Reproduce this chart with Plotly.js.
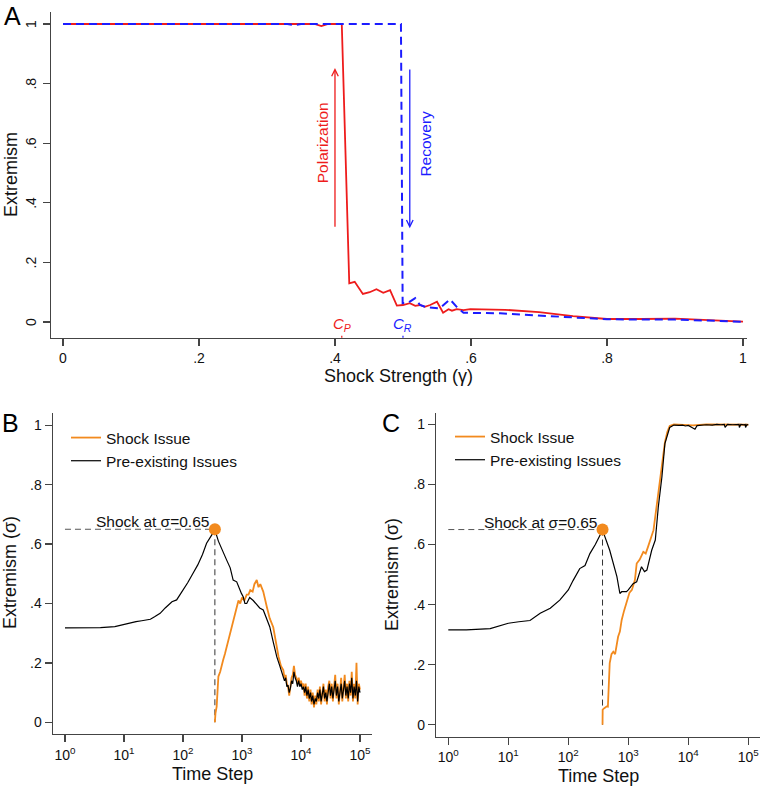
<!DOCTYPE html>
<html>
<head>
<meta charset="utf-8">
<script src="https://cdn.plot.ly/plotly-3.0.1.min.js"></script>
<style>html,body{margin:0;padding:0;background:#fff;}</style>
</head>
<body>
<div id="chart" style="width:762px;height:789px;"></div>
<script>
// ---------- Panel A data ----------
const gammaPolarization = [0, 0.1, 0.2, 0.3, 0.37, 0.38, 0.39, 0.41, 0.421, 0.429, 0.441, 0.451, 0.461, 0.471, 0.481, 0.491, 0.50, 0.51, 0.518, 0.525, 0.532, 0.54, 0.55, 0.559, 0.567, 0.572, 0.579, 0.589, 0.599, 0.65, 0.7, 0.75, 0.8, 0.85, 0.9, 0.95, 1.0];
const extremismPolarization = [1, 1, 1, 1, 1, 0.993, 1, 1, 0.13, 0.135, 0.094, 0.10, 0.11, 0.098, 0.107, 0.055, 0.057, 0.063, 0.054, 0.057, 0.051, 0.057, 0.068, 0.031, 0.043, 0.038, 0.043, 0.040, 0.043, 0.041, 0.033, 0.02, 0.01, 0.01, 0.011, 0.006, 0.001];
const gammaRecovery = [0, 0.2, 0.33, 0.34, 0.35, 0.497, 0.4995, 0.508, 0.518, 0.525, 0.535, 0.554, 0.569, 0.579, 0.589, 0.643, 0.692, 0.75, 0.8, 0.9, 1.0];
const extremismRecovery = [1, 1, 1, 0.996, 1, 1, 0.063, 0.065, 0.08, 0.057, 0.049, 0.046, 0.076, 0.051, 0.031, 0.029, 0.023, 0.015, 0.009, 0.008, 0.001];
const gammaTicks = [0, 0.2, 0.4, 0.6, 0.8, 1];
const gammaTickText = ['0', '.2', '.4', '.6', '.8', '1'];
const extremismTicks = [0, 0.2, 0.4, 0.6, 0.8, 1];
const extremismTickText = ['0', '.2', '.4', '.6', '.8', '1'];
const criticalPoints = [0.41, 0.5];        // C_P, C_R
const arrowSpan = [0.315, 0.852];          // arrows: low / high extremism
const arrowGamma = [0.4, 0.51];            // polarization / recovery arrow position

// ---------- Panels B / C data ----------
const timeTicks = [1, 10, 100, 1000, 10000, 100000];
const timeTickText = ['10<sup>0</sup>', '10<sup>1</sup>', '10<sup>2</sup>', '10<sup>3</sup>', '10<sup>4</sup>', '10<sup>5</sup>'];
const shockLevel = 0.65;
const shockTimeB = 347;
const shockTimeC = 372;

const bPreT = [1, 2, 4, 7, 10, 16, 20, 28, 33, 41, 50, 65, 78, 100, 120, 148, 178, 214, 251, 295, 347, 398, 457, 550, 631, 708, 813, 891, 977, 1047, 1122, 1202, 1349, 1549, 1778, 1995, 2291, 2630, 2951, 3388, 3890, 4365, 5012];
const bPreV = [0.318, 0.318, 0.319, 0.322, 0.33, 0.339, 0.342, 0.347, 0.355, 0.367, 0.385, 0.406, 0.412, 0.445, 0.47, 0.502, 0.53, 0.565, 0.603, 0.625, 0.648, 0.61, 0.58, 0.546, 0.52, 0.479, 0.473, 0.45, 0.434, 0.423, 0.40, 0.40, 0.42, 0.41, 0.395, 0.385, 0.378, 0.35, 0.322, 0.27, 0.22, 0.19, 0.154];
const bShockT = [347, 355, 372, 389, 398, 427, 457, 479, 513, 550, 589, 631, 708, 759, 813, 871, 933, 1000, 1096, 1202, 1288, 1380, 1514, 1622, 1778, 1905, 2042, 2291, 2630, 2951, 3388, 3802, 4169, 4571, 5012];
const bShockV = [0, 0.03, 0.053, 0.12, 0.154, 0.17, 0.2, 0.21, 0.23, 0.255, 0.27, 0.30, 0.344, 0.37, 0.39, 0.41, 0.40, 0.42, 0.41, 0.43, 0.43, 0.445, 0.44, 0.465, 0.479, 0.455, 0.465, 0.44, 0.389, 0.35, 0.32, 0.26, 0.22, 0.19, 0.176];
const bMidT = [5248, 5495, 5754, 6026, 6310, 6607, 6918, 7244, 7586, 7943, 8318, 8710, 9120, 9550];
const bMidPreV = [0.14, 0.15, 0.12, 0.125, 0.10, 0.115, 0.14, 0.13, 0.17, 0.15, 0.14, 0.12, 0.14, 0.12];
const bMidShockV = [0.15, 0.16, 0.13, 0.12, 0.09, 0.12, 0.15, 0.16, 0.19, 0.16, 0.15, 0.13, 0.15, 0.13];
const bTailT = [10000, 10500, 11000, 11500, 12000, 12600, 13200, 13800, 14500, 15100, 15800, 16600, 17400, 18200, 19100, 20000, 20900, 21900, 22900, 24000, 25100, 26300, 27500, 28800, 30200, 31600, 33100, 34700, 36300, 38000, 39800, 41700, 43700, 45700, 47900, 50100, 52500, 55000, 57500, 60300, 63100, 66100, 69200, 72400, 75900, 79400, 83200, 87100, 91200, 95500, 100000];
const bTailPreV = [0.13, 0.11, 0.12, 0.10, 0.12, 0.09, 0.11, 0.08, 0.10, 0.07, 0.09, 0.06, 0.08, 0.07, 0.10, 0.08, 0.11, 0.07, 0.09, 0.12, 0.08, 0.10, 0.07, 0.11, 0.13, 0.09, 0.12, 0.08, 0.11, 0.14, 0.09, 0.12, 0.07, 0.10, 0.13, 0.08, 0.11, 0.14, 0.09, 0.12, 0.08, 0.13, 0.10, 0.15, 0.08, 0.12, 0.09, 0.14, 0.07, 0.12, 0.10];
const bTailShockV = [0.14, 0.12, 0.13, 0.09, 0.13, 0.08, 0.12, 0.07, 0.11, 0.06, 0.10, 0.05, 0.09, 0.06, 0.11, 0.07, 0.12, 0.06, 0.10, 0.13, 0.07, 0.11, 0.06, 0.12, 0.14, 0.08, 0.13, 0.07, 0.12, 0.16, 0.08, 0.13, 0.06, 0.11, 0.15, 0.07, 0.12, 0.16, 0.08, 0.13, 0.07, 0.14, 0.09, 0.17, 0.07, 0.13, 0.08, 0.20, 0.06, 0.13, 0.11];

const cPreT = [1, 2, 5, 10, 15, 23, 34, 50, 72, 100, 120, 155, 190, 229, 282, 372, 490, 646, 724, 776, 933, 1000, 1202, 1380, 1660, 1862, 2042, 2455, 2818, 3162, 3631, 4074, 4898, 5754, 7000, 8000, 9000, 10000, 11500, 12900, 14000, 16000, 20000, 25000, 30000, 35000, 39800, 41000, 45000, 55000, 65000, 70000, 71000, 75000, 85000, 89000, 90000, 95000, 100000];
const cPreV = [0.316, 0.316, 0.32, 0.338, 0.343, 0.347, 0.371, 0.388, 0.415, 0.449, 0.48, 0.52, 0.53, 0.57, 0.60, 0.648, 0.581, 0.493, 0.437, 0.443, 0.443, 0.449, 0.47, 0.476, 0.526, 0.51, 0.515, 0.581, 0.615, 0.725, 0.825, 0.936, 0.99, 0.998, 0.997, 0.998, 0.995, 0.997, 0.99, 0.984, 0.996, 0.998, 0.999, 0.998, 1.0, 0.999, 1.0, 0.99, 1.0, 0.999, 1.0, 1.0, 0.99, 1.0, 0.999, 1.0, 0.99, 1.0, 0.998];
const cShockT = [372, 374, 398, 437, 457, 468, 490, 525, 562, 603, 676, 724, 776, 851, 933, 1047, 1148, 1288, 1380, 1549, 1778, 1950, 2138, 2399, 2630, 2951, 3311, 3631, 4074, 4467, 4898, 5754, 8000, 12000, 20000, 40000, 70000, 100000];
const cShockV = [0, 0.05, 0.055, 0.061, 0.06, 0.127, 0.205, 0.235, 0.243, 0.235, 0.293, 0.31, 0.349, 0.38, 0.404, 0.44, 0.449, 0.482, 0.537, 0.55, 0.576, 0.57, 0.593, 0.62, 0.648, 0.725, 0.80, 0.85, 0.94, 0.975, 0.995, 1.0, 0.999, 0.997, 1.0, 0.999, 0.998, 0.999];

// ---------- styling ----------
const FONT = '"Liberation Sans", Arial, Helvetica, sans-serif';
const RED = '#ee1c1c', BLUE = '#1c1cff', ORANGE = '#f28a1e', AXIS = '#444';
const PW = 762, PH = 789;
const px = v => v / PW, py = v => 1 - v / PH;

const traces = [
  {x: gammaPolarization, y: extremismPolarization, xaxis: 'x', yaxis: 'y', mode: 'lines',
   line: {color: RED, width: 1.8}, showlegend: false, name: 'Polarization'},
  {x: gammaRecovery, y: extremismRecovery, xaxis: 'x', yaxis: 'y', mode: 'lines',
   line: {color: BLUE, width: 2, dash: '8px,5px'}, showlegend: false, name: 'Recovery'},

  // Panel B
  {x: [1, shockTimeB], y: [shockLevel, shockLevel], xaxis: 'x2', yaxis: 'y2', mode: 'lines',
   line: {color: '#555', width: 1, dash: '6px,4px'}, showlegend: false},
  {x: [shockTimeB, shockTimeB], y: [shockLevel, 0], xaxis: 'x2', yaxis: 'y2', mode: 'lines',
   line: {color: '#333', width: 1, dash: '6px,4px'}, showlegend: false},
  {x: bShockT.concat(bMidT, bTailT), y: bShockV.concat(bMidShockV, bTailShockV), xaxis: 'x2', yaxis: 'y2',
   mode: 'lines', line: {color: ORANGE, width: 1.8}, name: 'Shock Issue', legend: 'legend'},
  {x: bPreT.concat(bMidT, bTailT), y: bPreV.concat(bMidPreV, bTailPreV), xaxis: 'x2', yaxis: 'y2',
   mode: 'lines', line: {color: '#000', width: 1.2}, name: 'Pre-existing Issues', legend: 'legend'},
  {x: [shockTimeB], y: [shockLevel], xaxis: 'x2', yaxis: 'y2', mode: 'markers',
   marker: {color: ORANGE, size: 12}, showlegend: false},

  // Panel C
  {x: [1, shockTimeC], y: [shockLevel, shockLevel], xaxis: 'x3', yaxis: 'y3', mode: 'lines',
   line: {color: '#555', width: 1, dash: '6px,4px'}, showlegend: false},
  {x: [shockTimeC, shockTimeC], y: [shockLevel, 0], xaxis: 'x3', yaxis: 'y3', mode: 'lines',
   line: {color: '#333', width: 1, dash: '6px,4px'}, showlegend: false},
  {x: cShockT, y: cShockV, xaxis: 'x3', yaxis: 'y3', mode: 'lines',
   line: {color: ORANGE, width: 1.8}, name: 'Shock Issue', legend: 'legend2'},
  {x: cPreT, y: cPreV, xaxis: 'x3', yaxis: 'y3', mode: 'lines',
   line: {color: '#000', width: 1.2}, name: 'Pre-existing Issues', legend: 'legend2'},
  {x: [shockTimeC], y: [shockLevel], xaxis: 'x3', yaxis: 'y3', mode: 'markers',
   marker: {color: ORANGE, size: 12}, showlegend: false}
];

function axisBase(extra) {
  return Object.assign({
    showline: true, linecolor: AXIS, linewidth: 1.2, mirror: false,
    ticks: 'outside', ticklen: 7, tickwidth: 1.2, tickcolor: AXIS,
    showgrid: false, zeroline: false, fixedrange: true,
    tickfont: {family: FONT, size: 14, color: '#111'}
  }, extra);
}

function paperText(text, x, y, size, extra) {
  return Object.assign({text: text, xref: 'paper', yref: 'paper', x: px(x), y: py(y),
    xanchor: 'center', yanchor: 'middle', showarrow: false, font: {size: size, color: '#111'}}, extra || {});
}

// Panel A y tick labels are drawn rotated, Stata-style
const aYTickLabels = extremismTicks.map((v, i) => ({
  text: extremismTickText[i], xref: 'paper', yref: 'y', x: px(31), y: v, textangle: -90,
  xanchor: 'center', yanchor: 'middle', showarrow: false, font: {size: 14, color: '#111'}
}));

const layout = {
  width: PW, height: PH,
  margin: {l: 0, r: 0, t: 0, b: 0},
  paper_bgcolor: '#fff', plot_bgcolor: '#fff',
  font: {family: FONT, color: '#111'},
  hovermode: false,
  xaxis: axisBase({domain: [px(51), px(747)], range: [-0.0176, 1.0059], tickvals: gammaTicks, ticktext: gammaTickText, anchor: 'y'}),
  yaxis: axisBase({domain: [py(337.7), py(12)], range: [-0.0527, 1.0403], tickvals: extremismTicks, showticklabels: false, anchor: 'x'}),
  xaxis2: axisBase({type: 'log', domain: [px(52.7), px(372)], range: [-0.208, 5.203], tickvals: timeTicks, ticktext: timeTickText, ticklabelstandoff: 1, anchor: 'y2'}),
  yaxis2: axisBase({domain: [py(734), py(413)], range: [-0.0394, 1.0414], tickvals: extremismTicks, ticktext: extremismTickText, anchor: 'x2'}),
  xaxis3: axisBase({type: 'log', domain: [px(436), px(760)], range: [-0.205, 5.195], tickvals: timeTicks, ticktext: timeTickText, anchor: 'y3'}),
  yaxis3: axisBase({domain: [py(736.7), py(413)], range: [-0.0399, 1.0382], tickvals: extremismTicks, ticktext: extremismTickText, anchor: 'x3'}),
  legend: {x: px(66), y: py(421), xanchor: 'left', yanchor: 'top', bgcolor: 'rgba(0,0,0,0)',
           font: {family: FONT, size: 15.5, color: '#111'}},
  legend2: {x: px(450), y: py(420), xanchor: 'left', yanchor: 'top', bgcolor: 'rgba(0,0,0,0)',
            font: {family: FONT, size: 15.5, color: '#111'}},
  annotations: aYTickLabels.concat([
    // panel letters
    paperText('A', 12, 16, 25, {font: {size: 25, color: '#000'}}),
    paperText('B', 10, 423, 25, {font: {size: 25, color: '#000'}}),
    paperText('C', 391, 423, 25, {font: {size: 25, color: '#000'}}),
    // axis titles
    paperText('Extremism', 11, 175, 18, {textangle: -90}),
    paperText('Shock Strength (γ)', 399, 376, 18),
    paperText('Extremism (σ)', 10, 573, 18, {textangle: -90}),
    paperText('Time Step', 212, 774, 18),
    paperText('Extremism (σ)', 392, 575, 18, {textangle: -90}),
    paperText('Time Step', 598, 776, 18),
    // panel A arrows and labels
    {text: '', xref: 'x', yref: 'y', axref: 'x', ayref: 'y', x: arrowGamma[0], y: arrowSpan[1], ax: arrowGamma[0], ay: arrowSpan[0],
     showarrow: true, arrowhead: 5, arrowsize: 1, arrowwidth: 1.3, arrowcolor: RED},
    {text: '', xref: 'x', yref: 'y', axref: 'x', ayref: 'y', x: arrowGamma[1], y: arrowSpan[0], ax: arrowGamma[1], ay: arrowSpan[1],
     showarrow: true, arrowhead: 5, arrowsize: 1, arrowwidth: 1.3, arrowcolor: BLUE},
    {text: 'Polarization', xref: 'x', yref: 'y', x: 0.381, y: 0.60, textangle: -90, showarrow: false, font: {size: 15.5, color: RED}},
    {text: 'Recovery', xref: 'x', yref: 'y', x: 0.533, y: 0.60, textangle: -90, showarrow: false, font: {size: 15.5, color: BLUE}},
    {text: '<i>C</i><sub><i>P</i></sub>', xref: 'x', yref: 'y', x: criticalPoints[0], y: -0.0527, ax: 0, ay: -13,
     showarrow: true, arrowhead: 0, arrowwidth: 1.2, arrowcolor: RED, standoff: 0, font: {size: 15, color: RED}},
    {text: '<i>C</i><sub><i>R</i></sub>', xref: 'x', yref: 'y', x: criticalPoints[1], y: -0.0527, ax: 0, ay: -13,
     showarrow: true, arrowhead: 0, arrowwidth: 1.2, arrowcolor: BLUE, standoff: 0, font: {size: 15, color: BLUE}},
    // shock labels
    {text: 'Shock at σ=0.65', xref: 'x2', yref: 'y2', x: Math.log10(shockTimeB), y: shockLevel, xanchor: 'right', yanchor: 'bottom',
     xshift: -4, yshift: -3, showarrow: false, font: {size: 15.5, color: '#111'}},
    {text: 'Shock at σ=0.65', xref: 'x3', yref: 'y3', x: Math.log10(shockTimeC), y: shockLevel, xanchor: 'right', yanchor: 'bottom',
     xshift: -4, yshift: -3, showarrow: false, font: {size: 15.5, color: '#111'}}
  ])
};

Plotly.newPlot('chart', traces, layout, {staticPlot: true, displayModeBar: false});
</script>
</body>
</html>
